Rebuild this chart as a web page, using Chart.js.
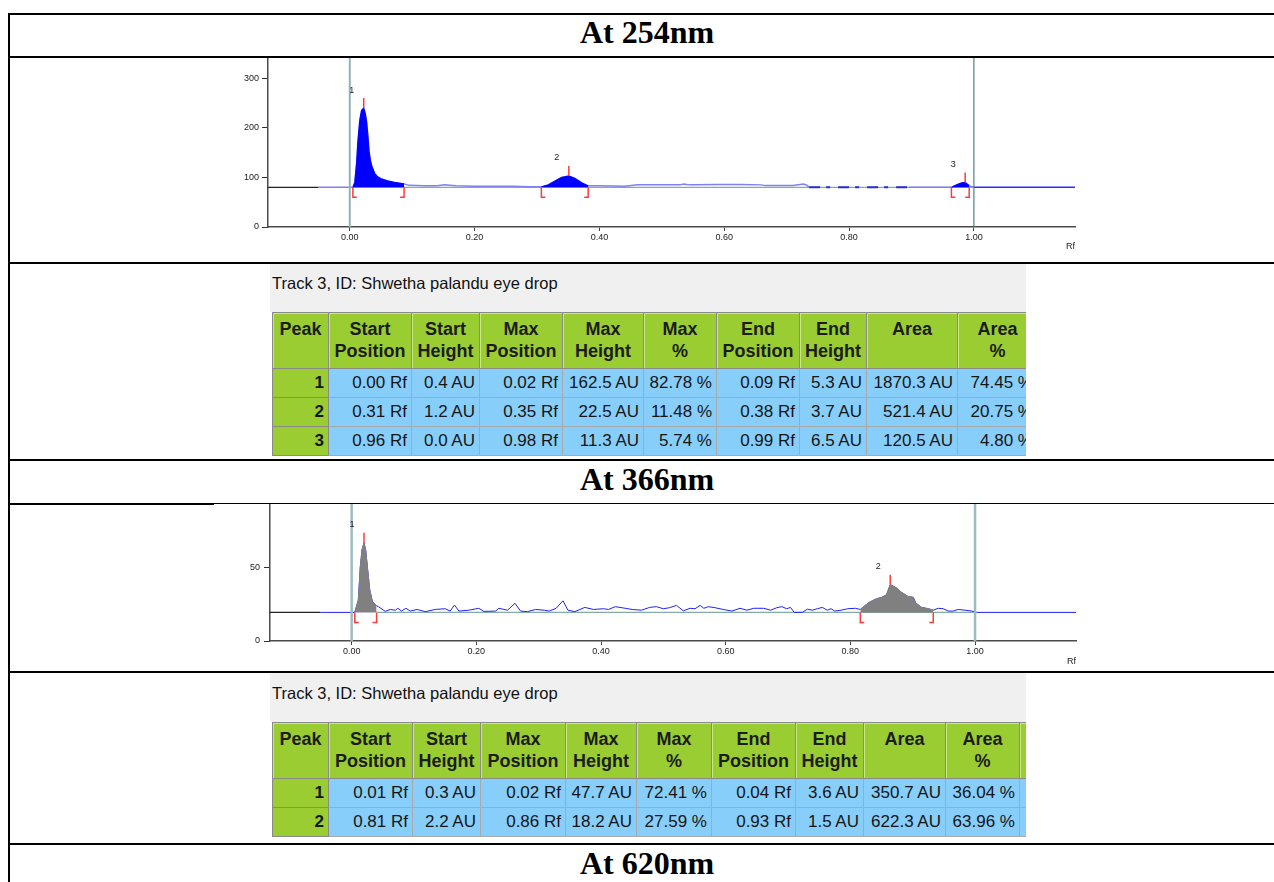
<!DOCTYPE html>
<html>
<head>
<meta charset="utf-8">
<script src="https://cdn.jsdelivr.net/npm/chart.js@4.4.1/dist/chart.umd.min.js"></script>
<style>
  body { margin: 0; width: 1274px; height: 882px; background: #fff; position: relative; overflow: hidden;
         font-family: "Liberation Sans", Arial, sans-serif; }
  .rule { position: absolute; background: #000; }
  .head { position: absolute; left: 10px; width: 1274px; height: 42px; line-height: 42px; text-align: center;
          font: bold 32px "Liberation Serif", "Times New Roman", serif; }
  .plot { position: absolute; left: 215px; }
  .trk { position: absolute; left: 270px; width: 756px; overflow: hidden; }
  .cap { background: #f0f0f0; padding-left: 2px; box-sizing: border-box; font-size: 16.5px; line-height: 20px; color: #111; }
  table { position: absolute; left: 2px; border-collapse: collapse; table-layout: fixed; }
  th, td { box-sizing: border-box; padding: 0; }
  th { background: #9acd32; height: 56px; border: 1px solid #8a8a8a; vertical-align: top; text-align: center;
       font: bold 18px/22px "Liberation Sans", Arial, sans-serif; padding-top: 5px; color: #1c1c1c;
       box-shadow: inset 1px 1px 0 #c9e68a; }
  td { background: #87cefa; height: 29px; border: 1px solid #a9a9a9; text-align: right; padding-right: 4px;
       font: 17px "Liberation Sans", Arial, sans-serif; color: #151515; white-space: nowrap; }
  td.pk { background: #9acd32; font-weight: bold; border-color: #8a8a8a; }
</style>
</head>
<body>
<div class="rule" style="left:8px;top:13px;width:2px;height:880px"></div>
<div class="rule" style="left:8px;top:13px;width:1266px;height:2px"></div>
<div class="rule" style="left:8px;top:56px;width:1266px;height:2px"></div>
<div class="rule" style="left:8px;top:262px;width:1266px;height:2px"></div>
<div class="rule" style="left:8px;top:459px;width:1266px;height:2px"></div>
<div class="rule" style="left:8px;top:503px;width:206px;height:2px"></div>
<div class="rule" style="left:214px;top:503px;width:1060px;height:1px"></div>
<div class="rule" style="left:8px;top:671px;width:1266px;height:2px"></div>
<div class="rule" style="left:8px;top:843px;width:1266px;height:2px"></div>

<div class="head" style="top:14px">At 254nm</div>
<div class="head" style="top:461px">At 366nm</div>
<div class="head" style="top:845px">At 620nm</div>

<div class="plot" style="top:58px;width:870px;height:204px"><canvas id="c254" width="870" height="204"></canvas></div>
<div class="plot" style="top:504px;width:870px;height:167px"><canvas id="c366" width="870" height="167"></canvas></div>

<div class="trk" style="top:264px;height:193px">
  <div class="cap" style="height:48px;padding-top:9px">Track 3, ID: Shwetha palandu eye drop</div>
  <table id="t254" style="top:48px"></table>
</div>
<div class="trk" style="top:673px;height:166px">
  <div class="cap" style="height:49px;padding-top:10px">Track 3, ID: Shwetha palandu eye drop</div>
  <table id="t366" style="top:49px"></table>
</div>

<script>
// ---- axis ticks ----
const rfTicks = [0, 0.2, 0.4, 0.6, 0.8, 1.0];
const yTicks254 = [0, 100, 200, 300];
const yTicks366 = [0, 50];
const rfMin = -0.131, rfMax = 1.162;

// ---- 254 nm densitogram ----
const rf254 = [-0.05, 0.005, 0.008, 0.011, 0.013, 0.016, 0.019, 0.0224, 0.025, 0.027, 0.029, 0.031, 0.033, 0.035,
  0.04, 0.045, 0.051, 0.061, 0.072, 0.087, 0.095, 0.12, 0.14, 0.152, 0.16, 0.17, 0.2, 0.23, 0.26, 0.29, 0.307,
  0.318, 0.329, 0.339, 0.351, 0.361, 0.372, 0.382, 0.4, 0.44, 0.462, 0.5, 0.529, 0.535, 0.545, 0.556, 0.588,
  0.626, 0.66, 0.665, 0.71, 0.727, 0.733, 0.736, 0.896, 0.964, 0.972, 0.98, 0.986, 0.9925, 1.0, 1.162];
const au254 = [80, 80, 90, 130, 172, 215, 236, 240, 228, 212, 185, 152, 135, 124,
  108, 101, 97, 93, 90, 87, 84, 83, 83, 85, 84, 83, 82, 82, 82, 81, 81,
  85, 93, 100, 103, 98, 89, 83, 83, 82, 85, 85, 85, 86.5, 85, 85, 86,
  86, 85, 83.5, 83.5, 86.5, 84, 80, 80, 80, 85, 89, 90, 83.5, 80, 80];
const base254 = 80;
const yMax254 = 341;
const peakNames254 = ['1', '2', '3'];
const pkStart254 = [0.005, 0.307, 0.964];
const pkMax254 = [0.0224, 0.351, 0.986];
const pkEnd254 = [0.087, 0.382, 0.9925];
const pkTop254 = [240, 103, 90];

// ---- 366 nm densitogram ----
const rf366 = [-0.05, 0.005, 0.0107, 0.0139, 0.0166, 0.0198, 0.0225, 0.0257, 0.029, 0.0332, 0.04, 0.043, 0.054,
  0.062, 0.07, 0.074, 0.08, 0.087, 0.094, 0.105, 0.118, 0.134, 0.15, 0.158, 0.165, 0.172, 0.188, 0.204, 0.212,
  0.231, 0.236, 0.25, 0.262, 0.271, 0.282, 0.295, 0.309, 0.317, 0.328, 0.339, 0.347, 0.358, 0.374, 0.388, 0.404,
  0.412, 0.423, 0.439, 0.45, 0.465, 0.478, 0.489, 0.5, 0.51, 0.521, 0.532, 0.543, 0.551, 0.559, 0.565, 0.572,
  0.583, 0.596, 0.61, 0.623, 0.634, 0.645, 0.661, 0.672, 0.682, 0.69, 0.698, 0.704, 0.71, 0.723, 0.731, 0.739,
  0.747, 0.755, 0.763, 0.769, 0.775, 0.785, 0.796, 0.808, 0.816, 0.823, 0.831, 0.842, 0.85, 0.858, 0.864, 0.874,
  0.882, 0.892, 0.901, 0.905, 0.914, 0.925, 0.933, 0.941, 0.949, 0.957, 0.965, 0.973, 0.984, 0.995, 1.003, 1.162];
const au366 = [19.5, 19.5, 28, 50.7, 62, 67, 62, 48.5, 34.8, 27, 24, 23.4, 20.2,
  21.5, 21, 22.3, 20.4, 22.3, 20.4, 21.5, 20, 21.5, 22, 20.4, 24.5, 20.4, 21, 22.3, 20.2,
  20.4, 22.3, 21, 25.7, 20.4, 20, 21.5, 21, 20.4, 22.3, 27.4, 21, 20, 22.9, 21.5, 22,
  21.5, 23.4, 22.3, 21.5, 21, 22.9, 23.4, 22, 22.7, 24.3, 20.6, 22.3, 22, 24.3, 22.3, 23.4,
  22.7, 21.5, 20.4, 22.3, 21, 22.3, 22.3, 21, 22.7, 23.4, 22, 22.9, 19.5, 19.5, 21.7, 21,
  22, 22.9, 21, 22, 20.4, 21, 22, 22.3, 21.5, 24, 26.5, 28.8, 29.7, 31.5, 38.4, 36.2,
  33.2, 30.5, 29.7, 25.9, 22.9, 22, 21, 22.3, 22, 20.4, 20.4, 21.5, 21, 20.4, 19.5, 19.5];
const base366 = 19.5;
const yMax366 = 93.4;
const peakNames366 = ['1', '2'];
const pkStart366 = [0.005, 0.816];
const pkMax366 = [0.0198, 0.864];
const pkEnd366 = [0.04, 0.933];
const pkTop366 = [67, 38.4];

// ---- peak tables ----
const colNames = ['Peak', 'Start Position', 'Start Height', 'Max Position', 'Max Height', 'Max %',
  'End Position', 'End Height', 'Area', 'Area %'];

const peaks254 = [1, 2, 3];
const startPos254 = [0.00, 0.31, 0.96];
const startH254 = [0.4, 1.2, 0.0];
const maxPos254 = [0.02, 0.35, 0.98];
const maxH254 = [162.5, 22.5, 11.3];
const maxPct254 = [82.78, 11.48, 5.74];
const endPos254 = [0.09, 0.38, 0.99];
const endH254 = [5.3, 3.7, 6.5];
const area254 = [1870.3, 521.4, 120.5];
const areaPct254 = [74.45, 20.75, 4.80];

const peaks366 = [1, 2];
const startPos366 = [0.01, 0.81];
const startH366 = [0.3, 2.2];
const maxPos366 = [0.02, 0.86];
const maxH366 = [47.7, 18.2];
const maxPct366 = [72.41, 27.59];
const endPos366 = [0.04, 0.93];
const endH366 = [3.6, 1.5];
const area366 = [350.7, 622.3];
const areaPct366 = [36.04, 63.96];

Chart.defaults.font.family = '"Liberation Sans", Arial, sans-serif';
Chart.defaults.color = '#222';

const peakMarks = {
  id: 'peakMarks',
  afterDatasetsDraw(chart, args, o) {
    const { ctx } = chart;
    const x = chart.scales.x, y = chart.scales.y;
    const yb = y.getPixelForValue(o.base);
    ctx.save();
    ctx.strokeStyle = '#ff3c3c';
    ctx.lineWidth = 1.5;
    ctx.fillStyle = '#222';
    ctx.font = '9px "Liberation Sans", Arial, sans-serif';
    ctx.textAlign = 'center';
    ctx.textBaseline = 'middle';
    o.max.forEach((m, i) => {
      const xm = x.getPixelForValue(m);
      const yt = y.getPixelForValue(o.top[i]);
      const xs = x.getPixelForValue(o.start[i]);
      const xe = x.getPixelForValue(o.end[i]);
      ctx.beginPath();
      ctx.moveTo(xm, yt); ctx.lineTo(xm, yt - 10);
      ctx.moveTo(xs, yb); ctx.lineTo(xs, yb + 10); ctx.lineTo(xs + 4, yb + 10);
      ctx.moveTo(xe, yb); ctx.lineTo(xe, yb + 10); ctx.lineTo(xe - 4, yb + 10);
      ctx.stroke();
      ctx.fillText(o.names[i], xm - 12, yt - 18);
    });
    ctx.restore();
  }
};

function fixBox(w, h) {
  return s => {
    if (w != null) s.width = w;
    if (h != null) s.height = h;
    s.paddingTop = s.paddingBottom = s.paddingLeft = s.paddingRight = 0;
  };
}

function makeChart(id, c) {
  const pts = c.rf.map((x, i) => ({ x, y: c.au[i] }));
  const datasets = [];
  c.front.forEach((f, i) => datasets.push({
    data: [{ x: f, y: 0 }, { x: f, y: c.yMax }],
    borderColor: c.frontColor[i], borderWidth: c.frontWidth[i], order: 1
  }));
  c.pkStart.forEach((s, i) => datasets.push({
    data: pts.filter(p => p.x >= s && p.x <= c.pkEnd[i]),
    borderColor: c.fillColor, backgroundColor: c.fillColor, borderWidth: 1,
    fill: { value: c.base }, order: 2
  }));
  datasets.push({ data: pts, borderColor: c.lineColor, borderWidth: c.lineWidth, segment: c.segment, order: 3 });
  datasets.push({
    data: [{ x: c.baseFrom, y: c.base }, { x: 1, y: c.base }],
    borderColor: '#84aca4', borderWidth: 1.2, order: 4
  });
  datasets.push({
    data: [{ x: rfMin, y: c.base }, { x: -0.05, y: c.base }],
    borderColor: '#222', borderWidth: 1.2, order: 4
  });

  return new Chart(document.getElementById(id), {
    type: 'line',
    data: { datasets },
    plugins: [peakMarks],
    options: {
      responsive: false,
      animation: false,
      devicePixelRatio: 1,
      layout: { padding: { left: 0, right: c.padRight, top: 0, bottom: 0 } },
      elements: { point: { radius: 0 }, line: { tension: 0 } },
      plugins: {
        legend: { display: false },
        tooltip: { enabled: false },
        peakMarks: { base: c.base, names: c.names, start: c.pkStart, max: c.pkMax, end: c.pkEnd, top: c.pkTop }
      },
      scales: {
        x: {
          type: 'linear', min: rfMin, max: rfMax,
          afterBuildTicks: s => { s.ticks = rfTicks.map(v => ({ value: v })); },
          afterFit: fixBox(null, c.xHeight),
          ticks: { autoSkip: false, maxRotation: 0, padding: 1, font: { size: 9 }, color: '#1a1a1a',
                   callback: v => Number(v).toFixed(2) },
          grid: { drawOnChartArea: false, drawTicks: true, tickLength: 4, tickColor: '#444' },
          border: { color: '#4a4a4a', width: 1.5 },
          title: { display: true, text: 'Rf', align: 'end', font: { size: 9 }, color: '#1a1a1a',
                   padding: { top: 0, bottom: c.titlePad } }
        },
        y: {
          type: 'linear', min: 0, max: c.yMax,
          afterBuildTicks: s => { s.ticks = c.yTicks.map(v => ({ value: v })); },
          afterFit: fixBox(c.yWidth, null),
          ticks: { autoSkip: false, padding: c.yPad, font: { size: 9 }, color: '#1a1a1a', callback: v => String(v) },
          grid: { drawOnChartArea: false, drawTicks: true, tickLength: 6, tickColor: '#333' },
          border: { color: '#4a4a4a', width: 1.5 }
        }
      }
    }
  });
}

const darkRun = x => x >= 0.736 && x < 0.896;
makeChart('c254', {
  rf: rf254, au: au254, base: base254, yMax: yMax254, yTicks: yTicks254,
  names: peakNames254, pkStart: pkStart254, pkMax: pkMax254, pkEnd: pkEnd254, pkTop: pkTop254,
  front: [0, 1], frontColor: ['#8db5b5', '#4f8282'], frontWidth: [2, 1.2],
  fillColor: '#0000ff', lineColor: '#8080f2', lineWidth: 1.5, baseFrom: 0,
  segment: {
    borderColor: s => s.p0.parsed.x >= 1 ? '#2a2aff' : (darkRun(s.p0.parsed.x) ? '#2a2ad8' : '#8080f2'),
    borderDash: s => darkRun(s.p0.parsed.x) ? [11, 6, 4, 8] : undefined,
    borderWidth: s => darkRun(s.p0.parsed.x) ? 2 : 1.5
  },
  yWidth: 53, yPad: 3, xHeight: 35, titlePad: 10, padRight: 10
});
makeChart('c366', {
  rf: rf366, au: au366, base: base366, yMax: yMax366, yTicks: yTicks366,
  names: peakNames366, pkStart: pkStart366, pkMax: pkMax366, pkEnd: pkEnd366, pkTop: pkTop366,
  front: [0, 1], frontColor: ['#9cbdbf', '#9cbdbf'], frontWidth: [2.5, 2.5],
  fillColor: '#808080', lineColor: '#2020ff', lineWidth: 1, baseFrom: 0.04,
  segment: {},
  yWidth: 55, yPad: 4, xHeight: 30, titlePad: 4, padRight: 9
});

// ---- tables ----
function buildTable(id, widths, cols, extra) {
  const t = document.getElementById(id);
  const total = widths.reduce((a, b) => a + b, 0);
  t.style.width = total + 'px';
  let html = '<colgroup>' + widths.map(w => `<col style="width:${w}px">`).join('') + '</colgroup>';
  html += '<tr>' + colNames.map(n => `<th>${n.replace(' ', '<br>')}</th>`).join('') + (extra ? '<th></th>' : '') + '</tr>';
  cols[0].forEach((pk, r) => {
    html += `<tr><td class="pk">${pk}</td>` +
      cols.slice(1).map(c => `<td>${c[r]}</td>`).join('') + (extra ? '<td></td>' : '') + '</tr>';
  });
  t.innerHTML = html;
}
const rfTxt = a => a.map(v => v.toFixed(2) + ' Rf');
const auTxt = a => a.map(v => v.toFixed(1) + ' AU');
const pcTxt = a => a.map(v => v.toFixed(2) + ' %');

buildTable('t254', [56, 83, 68, 83, 81, 73, 83, 67, 91, 80], [
  peaks254, rfTxt(startPos254), auTxt(startH254), rfTxt(maxPos254), auTxt(maxH254), pcTxt(maxPct254),
  rfTxt(endPos254), auTxt(endH254), auTxt(area254), pcTxt(areaPct254)
], false);
buildTable('t366', [56, 84, 68, 85, 71, 75, 84, 68, 82, 74, 40], [
  peaks366, rfTxt(startPos366), auTxt(startH366), rfTxt(maxPos366), auTxt(maxH366), pcTxt(maxPct366),
  rfTxt(endPos366), auTxt(endH366), auTxt(area366), pcTxt(areaPct366)
], true);
</script>
</body>
</html>
